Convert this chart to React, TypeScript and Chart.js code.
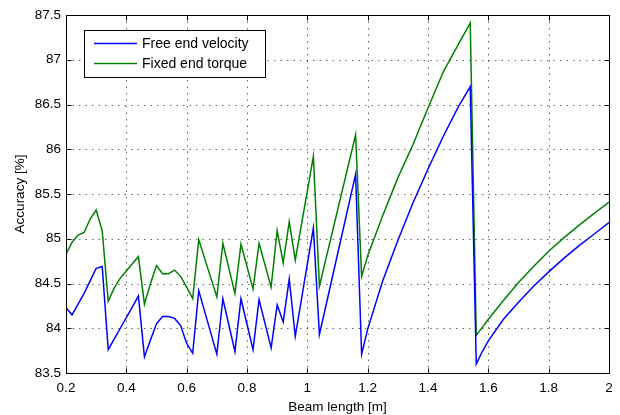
import React, { useEffect, useRef } from "react";
import { Chart, registerables } from "chart.js";

Chart.register(...registerables);

// Beam length samples [m]
const beamLength = [
  0.2, 0.22, 0.24, 0.26, 0.28, 0.3, 0.32, 0.34, 0.36, 0.38, 0.4, 0.42, 0.44, 0.46, 0.48,
  0.5, 0.52, 0.54, 0.56, 0.58, 0.6, 0.62, 0.64, 0.7, 0.72, 0.76, 0.78, 0.82, 0.84, 0.88,
  0.9, 0.92, 0.94, 0.96, 1.02, 1.04, 1.16, 1.18, 1.2, 1.25, 1.3, 1.35, 1.4, 1.45, 1.5,
  1.54, 1.56, 1.58, 1.6, 1.65, 1.7, 1.75, 1.8, 1.85, 1.9, 1.95, 2.0,
];

// Accuracy [%] with the free end velocity sensor
const freeEndVelocity = [
  84.23, 84.15, 84.27, 84.39, 84.53, 84.67, 84.69, 83.76, 83.88, 84.0, 84.12, 84.24, 84.36,
  83.68, 83.87, 84.05, 84.13, 84.13, 84.11, 84.03, 83.83, 83.72, 84.42, 83.71, 84.33, 83.74,
  84.33, 83.76, 84.32, 83.78, 84.26, 84.07, 84.55, 83.91, 85.12, 83.93, 85.72, 83.71, 83.99,
  84.53, 84.98, 85.4, 85.78, 86.14, 86.47, 86.7, 83.6, 83.74, 83.86, 84.1, 84.29, 84.47,
  84.63, 84.78, 84.92, 85.05, 85.18,
];

// Accuracy [%] with the fixed end torque sensor
const fixedEndTorque = [
  84.83, 84.96, 85.04, 85.07, 85.22, 85.32, 85.09, 84.3, 84.45, 84.56, 84.64, 84.72, 84.8,
  84.27, 84.5, 84.7, 84.61, 84.61, 84.65, 84.58, 84.46, 84.33, 84.99, 84.35, 84.95, 84.39,
  84.94, 84.44, 84.95, 84.46, 85.09, 84.73, 85.19, 84.76, 85.92, 84.47, 86.16, 84.58, 84.81,
  85.26, 85.68, 86.05, 86.46, 86.86, 87.17, 87.41, 83.92, 84.01, 84.1, 84.31, 84.51, 84.69,
  84.86, 85.01, 85.15, 85.28, 85.41,
];

const seriesNames = ["Free end velocity", "Fixed end torque"];
const seriesColors = ["#0000ff", "#008000"];

const xTicks = [0.2, 0.4, 0.6, 0.8, 1, 1.2, 1.4, 1.6, 1.8, 2];
const yTicks = [83.5, 84, 84.5, 85, 85.5, 86, 86.5, 87, 87.5];

const FONT = '"Liberation Sans", Arial, Helvetica, sans-serif';

const fmt = (v: number) => String(Number(v.toFixed(2)));

// Dotted grid, boxed axes with inward ticks, and a boxed legend
const framePlugin = {
  id: "matlabFrame",
  beforeDatasetsDraw(chart: any) {
    const { ctx, chartArea: a, scales } = chart;
    ctx.save();
    ctx.strokeStyle = "rgba(0,0,0,0.6)";
    ctx.lineWidth = 1;
    ctx.setLineDash([1.5, 5]);
    for (const v of xTicks) {
      const px = Math.round(scales.x.getPixelForValue(v)) + 0.5;
      if (px <= a.left + 1 || px >= a.right - 1) continue;
      ctx.beginPath();
      ctx.moveTo(px, a.top);
      ctx.lineTo(px, a.bottom);
      ctx.stroke();
    }
    for (const v of yTicks) {
      const py = Math.round(scales.y.getPixelForValue(v)) + 0.5;
      if (py <= a.top + 1 || py >= a.bottom - 1) continue;
      ctx.beginPath();
      ctx.moveTo(a.left, py);
      ctx.lineTo(a.right, py);
      ctx.stroke();
    }
    ctx.restore();
  },
  afterDatasetsDraw(chart: any) {
    const { ctx, chartArea: a, scales } = chart;
    ctx.save();
    ctx.setLineDash([]);
    ctx.strokeStyle = "#000";
    ctx.lineWidth = 1;
    const L = Math.round(a.left) + 0.5;
    const R = Math.round(a.right) + 0.5;
    const T = Math.round(a.top) + 0.5;
    const B = Math.round(a.bottom) + 0.5;
    ctx.strokeRect(L, T, R - L, B - T);
    const tl = 5;
    ctx.beginPath();
    for (const v of xTicks) {
      const px = Math.round(scales.x.getPixelForValue(v)) + 0.5;
      ctx.moveTo(px, B);
      ctx.lineTo(px, B - tl);
      ctx.moveTo(px, T);
      ctx.lineTo(px, T + tl);
    }
    for (const v of yTicks) {
      const py = Math.round(scales.y.getPixelForValue(v)) + 0.5;
      ctx.moveTo(L, py);
      ctx.lineTo(L + tl, py);
      ctx.moveTo(R, py);
      ctx.lineTo(R - tl, py);
    }
    ctx.stroke();

    // legend
    const bx = 84.5, by = 30.5, bw = 181, bh = 47;
    ctx.fillStyle = "#fff";
    ctx.fillRect(bx, by, bw, bh);
    ctx.strokeRect(bx, by, bw, bh);
    ctx.font = `14px ${FONT}`;
    ctx.textBaseline = "middle";
    ctx.textAlign = "left";
    seriesNames.forEach((name, i) => {
      const ly = 43.5 + i * 20;
      ctx.strokeStyle = seriesColors[i];
      ctx.lineWidth = 1.5;
      ctx.beginPath();
      ctx.moveTo(94, ly);
      ctx.lineTo(137, ly);
      ctx.stroke();
      ctx.fillStyle = "#000";
      ctx.fillText(name, 142, ly + 0.5);
    });
    ctx.restore();
  },
};

export default function App() {
  const canvasRef = useRef<HTMLCanvasElement | null>(null);

  useEffect(() => {
    const canvas = canvasRef.current;
    if (!canvas) return;
    const series = [freeEndVelocity, fixedEndTorque];
    const chart = new Chart(canvas, {
      type: "line",
      data: {
        datasets: series.map((vals, i) => ({
          label: seriesNames[i],
          data: beamLength.map((x, j) => ({ x, y: vals[j] })),
          borderColor: seriesColors[i],
          backgroundColor: seriesColors[i],
          borderWidth: 1.5,
          pointRadius: 0,
          tension: 0,
          fill: false,
        })),
      },
      options: {
        animation: false,
        responsive: false,
        devicePixelRatio: 1,
        layout: { padding: { top: 15, right: 11, left: 0, bottom: 0 } },
        plugins: {
          legend: { display: false },
          tooltip: { enabled: false },
        },
        scales: {
          x: {
            type: "linear",
            min: 0.2,
            max: 2,
            afterFit: (s: any) => {
              s.height = 42;
            },
            afterBuildTicks: (s: any) => {
              s.ticks = xTicks.map((v) => ({ value: v }));
            },
            ticks: {
              callback: (v: any) => fmt(Number(v)),
              color: "#000",
              padding: 7,
              maxRotation: 0,
              autoSkip: false,
              font: { family: FONT, size: 13.5 },
            },
            grid: { display: false, drawTicks: false },
            border: { display: false },
            title: {
              display: true,
              text: "Beam length [m]",
              color: "#000",
              padding: { top: 2, bottom: 0 },
              font: { family: FONT, size: 13.5 },
            },
          },
          y: {
            type: "linear",
            min: 83.5,
            max: 87.5,
            afterFit: (s: any) => {
              s.width = 66;
            },
            afterBuildTicks: (s: any) => {
              s.ticks = yTicks.map((v) => ({ value: v }));
            },
            ticks: {
              callback: (v: any) => fmt(Number(v)),
              color: "#000",
              padding: 5,
              autoSkip: false,
              font: { family: FONT, size: 13.5 },
            },
            grid: { display: false, drawTicks: false },
            border: { display: false },
            title: {
              display: true,
              text: "Accuracy [%]",
              color: "#000",
              padding: { top: 12, bottom: 0 },
              font: { family: FONT, size: 13.5 },
            },
          },
        },
      },
      plugins: [framePlugin],
    });
    return () => chart.destroy();
  }, []);

  return (
    <div style={{ position: "fixed", left: 0, top: 0, width: 620, height: 415, background: "#fff" }}>
      <canvas ref={canvasRef} width={620} height={415} style={{ display: "block" }} />
    </div>
  );
}
